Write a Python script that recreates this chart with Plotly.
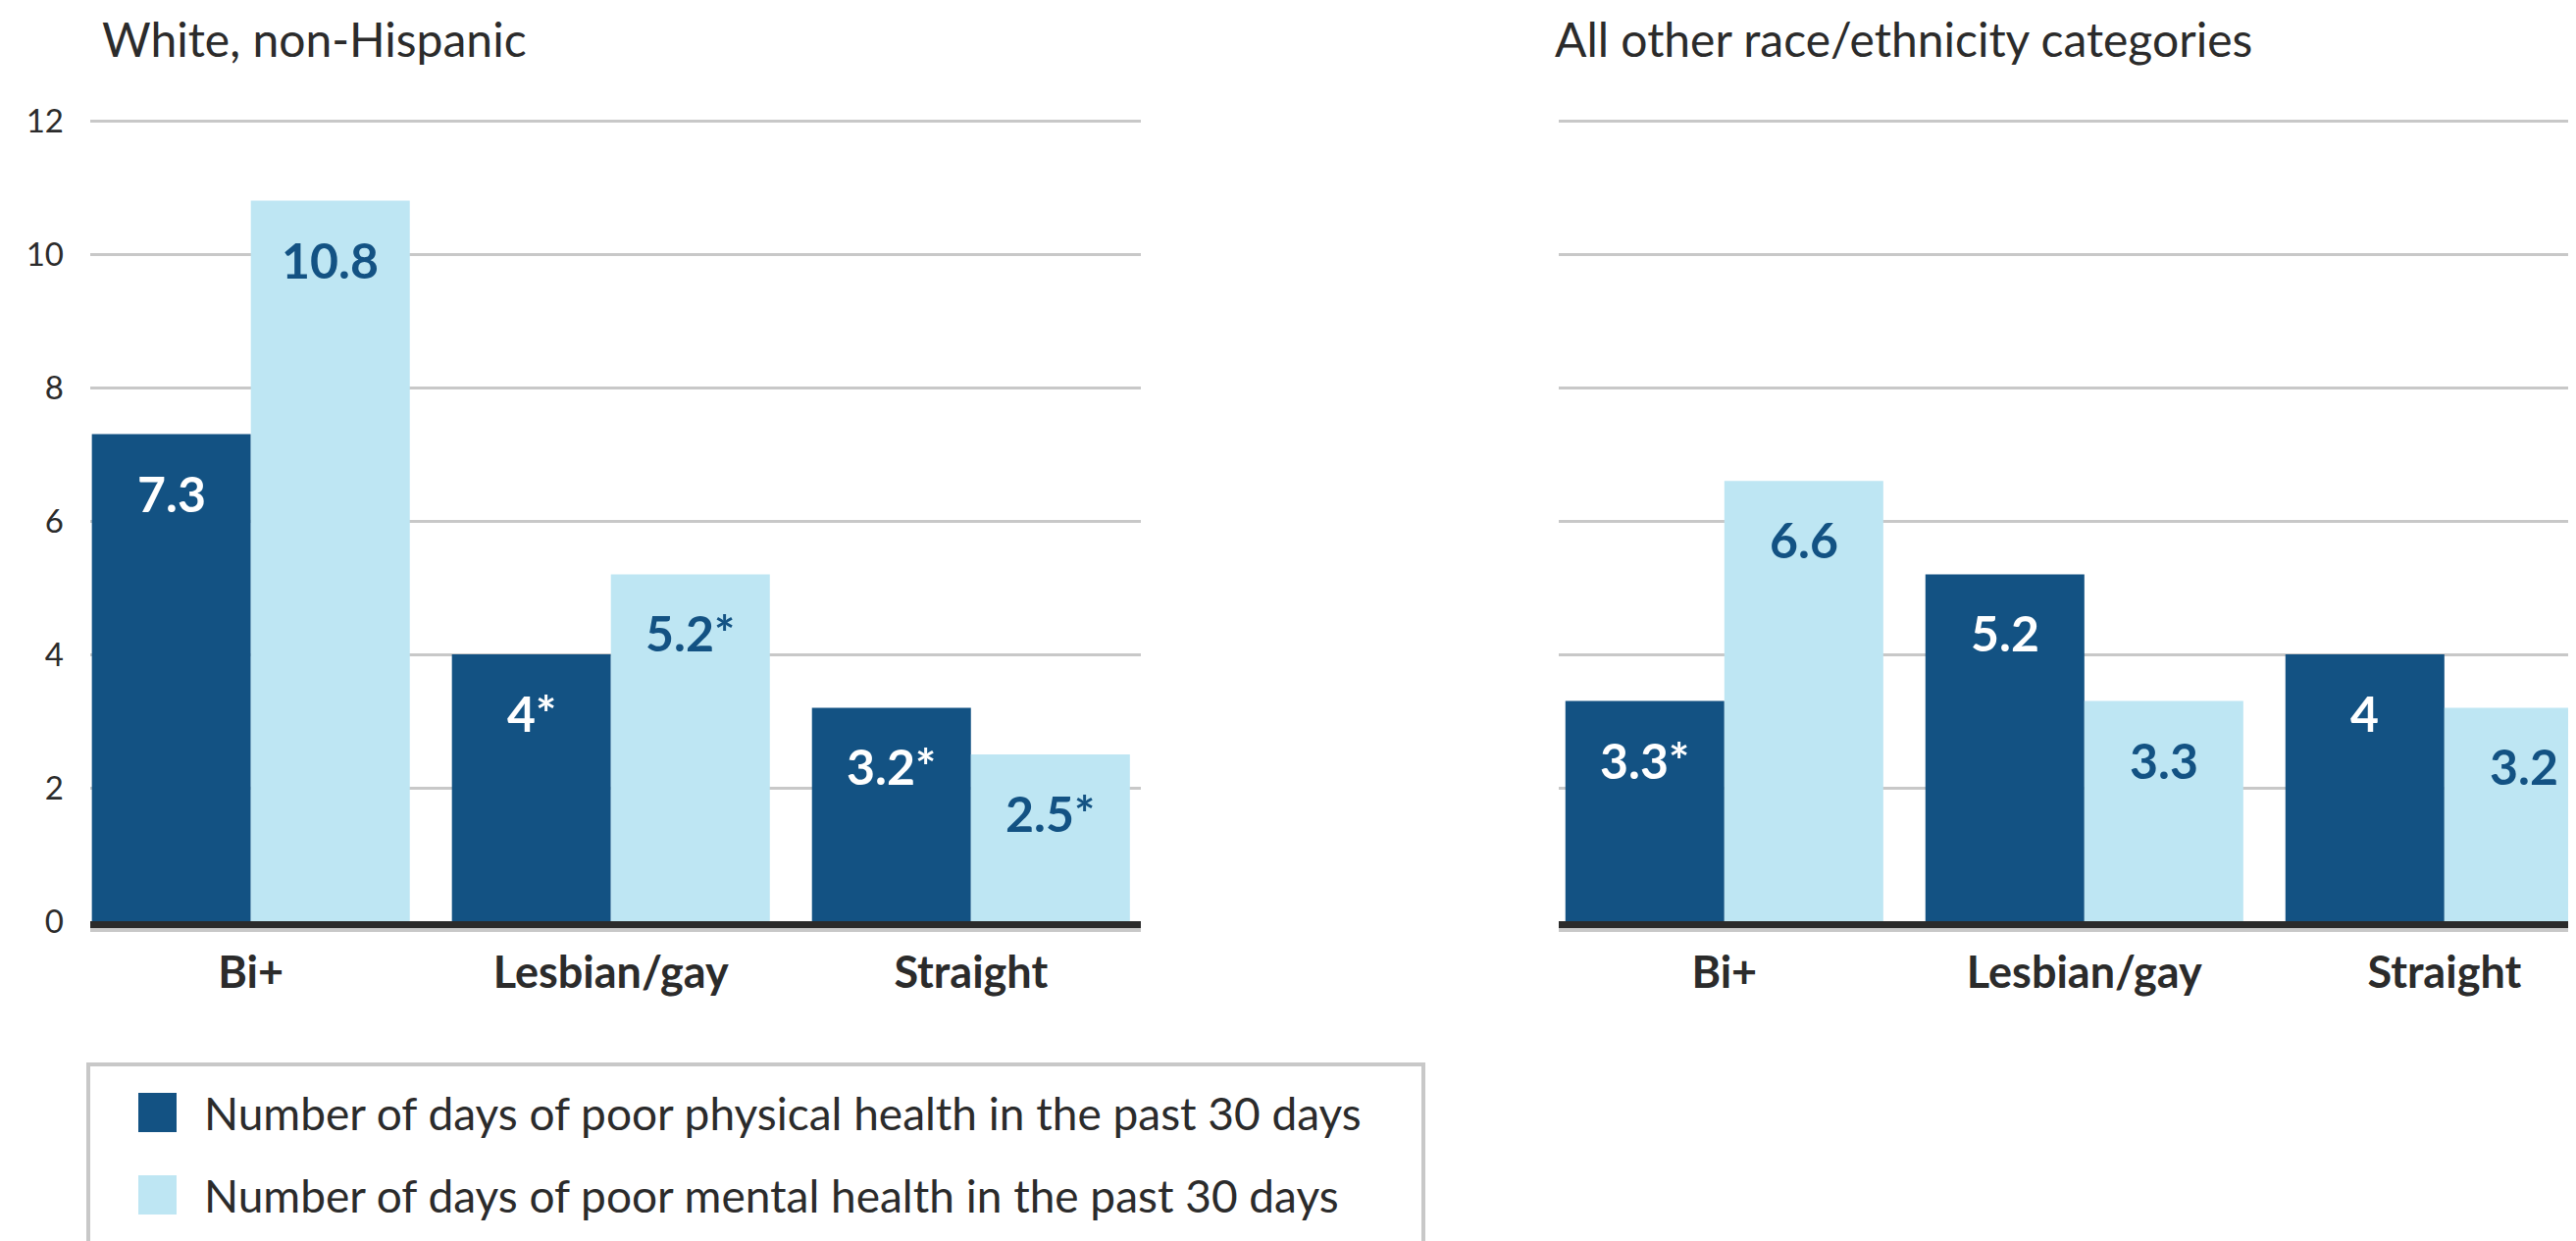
import plotly.graph_objects as go

# ---------------- data ----------------
categories = ["Bi+", "Lesbian/gay", "Straight"]
panel_titles = ["White, non-Hispanic", "All other race/ethnicity categories"]
series_names = [
    "Number of days of poor physical health in the past 30 days",
    "Number of days of poor mental health in the past 30 days",
]
white_physical = [7.3, 4.0, 3.2]
white_physical_sig = [False, True, True]
white_mental = [10.8, 5.2, 2.5]
white_mental_sig = [False, True, True]
other_physical = [3.3, 5.2, 4.0]
other_physical_sig = [True, False, False]
other_mental = [6.6, 3.3, 3.2]
other_mental_sig = [False, False, False]
y_ticks = [0, 2, 4, 6, 8, 10, 12]

# ---------------- style ----------------
W, H = 2626, 1265
OFF = 8  # page body margin compensation
DARK = "#135283"
LIGHT = "#bee6f3"
GRID = "#c8c8c8"
TXT = "#2b2b2b"
FONT = "Lato, 'Open Sans', sans-serif"


def px_x(p):
    return (p - OFF) / W


def px_y(p):
    return 1 - (p - OFF) / H


def label(v, s):
    return f"{v:g}" + ("*" if s else "")


fig = go.Figure()

panels = [
    ("x", "y", white_physical, white_physical_sig, white_mental, white_mental_sig),
    ("x2", "y2", other_physical, other_physical_sig, other_mental, other_mental_sig),
]

annotations = []
for xa, ya, phys, phys_sig, ment, ment_sig in panels:
    fig.add_trace(go.Bar(x=categories, y=phys, name=series_names[0], marker=dict(color=DARK, line=dict(width=0)),
                         xaxis=xa, yaxis=ya, showlegend=False, hoverinfo="skip"))
    fig.add_trace(go.Bar(x=categories, y=ment, name=series_names[1], marker=dict(color=LIGHT, line=dict(width=0)),
                         xaxis=xa, yaxis=ya, showlegend=False, hoverinfo="skip"))
    for cat, v, s in zip(categories, phys, phys_sig):
        annotations.append(dict(x=cat, y=v, xref=xa, yref=ya, text=label(v, s), showarrow=False,
                                xshift=-81, yshift=-60, yanchor="middle",
                                font=dict(family=FONT, size=50, color="white", weight="bold")))
    for cat, v, s in zip(categories, ment, ment_sig):
        annotations.append(dict(x=cat, y=v, xref=xa, yref=ya, text=label(v, s), showarrow=False,
                                xshift=81, yshift=-60, yanchor="middle",
                                font=dict(family=FONT, size=50, color=DARK, weight="bold")))

# panel titles
annotations.append(dict(x=px_x(102), y=px_y(40), xref="paper", yref="paper", text=panel_titles[0],
                        showarrow=False, xanchor="left", yanchor="middle",
                        font=dict(family=FONT, size=48, color=TXT)))
annotations.append(dict(x=px_x(1583), y=px_y(40), xref="paper", yref="paper", text=panel_titles[1],
                        showarrow=False, xanchor="left", yanchor="middle",
                        font=dict(family=FONT, size=48, color=TXT)))

# legend (manual, large swatches)
shapes = [
    dict(type="rect", xref="paper", yref="paper", x0=px_x(90), x1=px_x(1451), y0=px_y(1085), y1=px_y(1330),
         line=dict(color=GRID, width=4), fillcolor="rgba(0,0,0,0)"),
]
legend_rows = [1134, 1218]
for name, col, yc in zip(series_names, [DARK, LIGHT], legend_rows):
    shapes.append(dict(type="rect", xref="paper", yref="paper", x0=px_x(141), x1=px_x(180),
                       y0=px_y(yc - 20), y1=px_y(yc + 20), line=dict(width=0), fillcolor=col))
    annotations.append(dict(x=px_x(206), y=px_y(yc), xref="paper", yref="paper", text=name,
                            showarrow=False, xanchor="left", yanchor="middle",
                            font=dict(family=FONT, size=46, color=TXT)))

# light shadow under the baseline
for xa in ["x", "x2"]:
    shapes.append(dict(type="line", xref=f"{xa} domain", yref="paper", x0=0, x1=1,
                       y0=px_y(948), y1=px_y(948), line=dict(color=GRID, width=4)))

PX_PER_UNIT = 68
Y_TOP = 12.06
y_dom = [px_y(939), px_y(939 - PX_PER_UNIT * Y_TOP)]
yaxis_common = dict(range=[0, Y_TOP], tickvals=y_ticks, showgrid=True, gridcolor=GRID, gridwidth=3,
                    zeroline=False, showline=False, ticks="", domain=y_dom, fixedrange=True,
                    automargin=False)
xaxis_common = dict(showline=True, linecolor=TXT, linewidth=7, ticks="", showgrid=False, zeroline=False,
                    tickfont=dict(family=FONT, size=45, color=TXT, weight="bold"), fixedrange=True,
                    ticklabelstandoff=7, automargin=False)

X_PX_PER_UNIT = 367
left_dom = [px_x(92), px_x(1163)]
right_dom = [px_x(1589), 1.0]
right_width_px = (right_dom[1] - right_dom[0]) * W
right_start = -0.46

fig.update_layout(
    width=W, height=H,
    margin=dict(l=0, r=0, t=0, b=0, autoexpand=False),
    paper_bgcolor="white", plot_bgcolor="white",
    barmode="group", bargap=0.117, bargroupgap=0,
    showlegend=False,
    xaxis=dict(domain=left_dom, range=[-0.446, 2.472], anchor="y", **xaxis_common),
    xaxis2=dict(domain=right_dom, range=[right_start, right_start + right_width_px / X_PX_PER_UNIT],
                anchor="y2", **xaxis_common),
    yaxis=dict(anchor="x", showticklabels=True, tickfont=dict(family=FONT, size=33, color=TXT),
               ticklabelstandoff=26, **yaxis_common),
    yaxis2=dict(anchor="x2", showticklabels=False, **yaxis_common),
    annotations=annotations,
    shapes=shapes,
)

fig.write_html("out.html")
